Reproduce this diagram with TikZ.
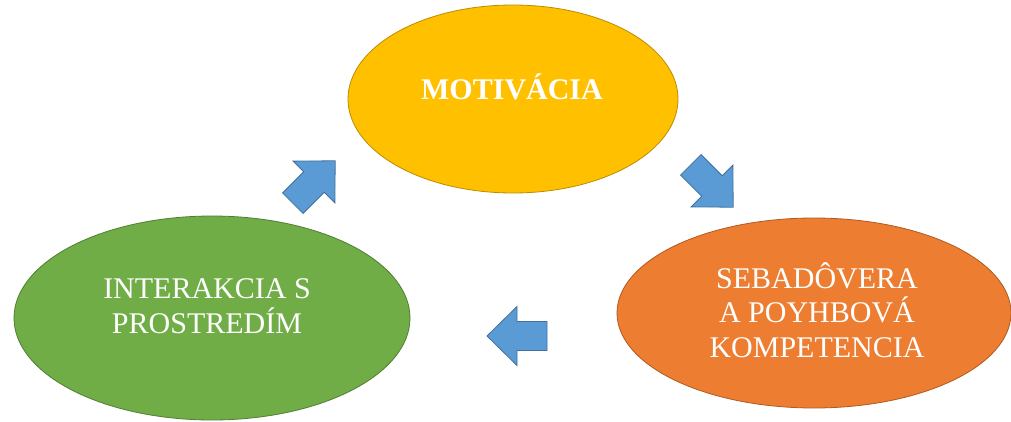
\documentclass[tikz,border=0pt]{standalone}
\usepackage{fontspec}
\setmainfont{Liberation Serif}
\usetikzlibrary{shapes.geometric}
\definecolor{yel}{HTML}{FFC000}
\definecolor{yelb}{HTML}{BC8C00}
\definecolor{ora}{HTML}{ED7D31}
\definecolor{orab}{HTML}{AE5A21}
\definecolor{gre}{HTML}{70AD47}
\definecolor{greb}{HTML}{507E32}
\definecolor{blu}{HTML}{5B9BD5}
\definecolor{blub}{HTML}{41719C}
\tikzset{
  ell/.style={ellipse, draw, line width=0.8pt, inner sep=0pt},
  txt/.style={anchor=base, inner sep=0pt, text=white, font=\fontsize{30}{35}\selectfont},
  arrowstyle/.style={fill=blu, draw=blub, line width=0.8pt, line join=miter},
  blockarrow/.pic={\draw[arrowstyle] (-30,14.5) -- (0,14.5) -- (0,29.5) -- (30,0) -- (0,-29.5) -- (0,-14.5) -- (-30,-14.5) -- cycle;}
}
\begin{document}
\begin{tikzpicture}[x=1pt,y=1pt]
\useasboundingbox (0,0) rectangle (1011,421);
% ellipses
\node[ell, fill=yel, draw=yelb, minimum width=330pt, minimum height=188pt] (mot) at (513,322) {};
\node[ell, fill=ora, draw=orab, minimum width=394pt, minimum height=190pt] (seb) at (814,108) {};
\node[ell, fill=gre, draw=greb, minimum width=396pt, minimum height=204pt] (int) at (212,103) {};
% texts
\node[txt, font=\fontsize{30}{35}\selectfont\bfseries] (motT) at (512,321) {MOTIVÁCIA};
\node[txt] (sebT1) at (817,133) {SEBADÔVERA};
\node[txt] (sebT2) at (817,99) {A POYHBOVÁ};
\node[txt] (sebT3) at (817,64) {KOMPETENCIA};
\node[txt] (intT1) at (207,123) {INTERAKCIA S};
\node[txt] (intT2) at (207,88) {PROSTREDÍM};
% arrows
\pic[rotate=45] (a1) at (314,239) {blockarrow};
\pic[rotate=-45] (a2) at (712,235) {blockarrow};
\pic[rotate=180] (a3) at (517,85) {blockarrow};
\end{tikzpicture}
\end{document}
